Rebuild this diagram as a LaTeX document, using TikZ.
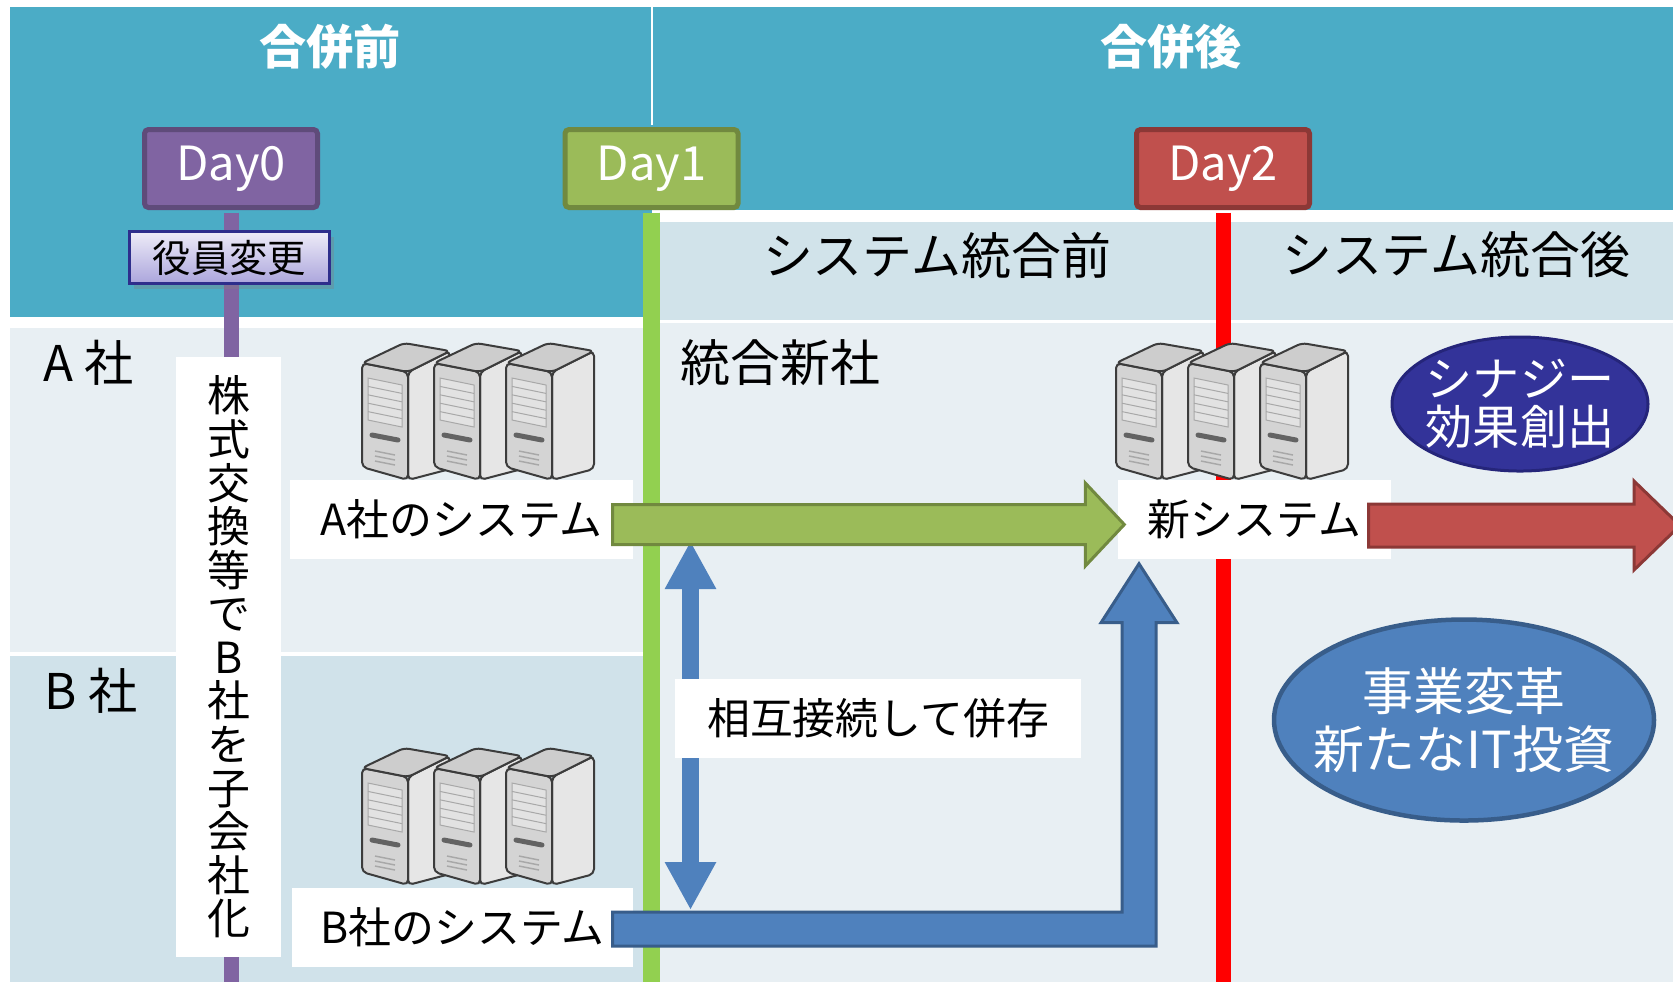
\documentclass[tikz,border=0pt]{standalone}
\usepackage{fontspec}
\setmainfont{Noto Sans CJK JP}
\usetikzlibrary{shapes.geometric,arrows.meta,shadows,calc}

\definecolor{hdteal}{HTML}{4BACC6}
\definecolor{bandblue}{HTML}{D1E3EA}
\definecolor{rowa}{HTML}{E8EFF3}
\definecolor{rowb}{HTML}{D0E2EA}
\definecolor{d0fill}{HTML}{8064A2}
\definecolor{d0line}{HTML}{5F4B7A}
\definecolor{d1fill}{HTML}{9BBB59}
\definecolor{d1line}{HTML}{71893F}
\definecolor{d1bar}{HTML}{92D050}
\definecolor{d2fill}{HTML}{C0504D}
\definecolor{d2line}{HTML}{8C3836}
\definecolor{accblue}{HTML}{4F81BD}
\definecolor{accline}{HTML}{385D8A}
\definecolor{synfill}{HTML}{333399}
\definecolor{synline}{HTML}{25257A}
\definecolor{yakuline}{HTML}{2E2E8C}
\definecolor{yakutop}{HTML}{EEECF8}
\definecolor{yakubot}{HTML}{ABA5DC}
\definecolor{towerline}{HTML}{3C3C3C}
\definecolor{towerfront}{HTML}{D4D4D4}
\definecolor{towerside}{HTML}{E6E6E6}
\definecolor{towertop}{HTML}{CDCDCD}
\definecolor{towerslot}{HTML}{E2E2E2}
\definecolor{towerbay}{HTML}{A8A8A8}

% one server tower, origin at the top left corner of its front
\tikzset{
  servertower/.pic={
    \filldraw[draw=towerline, fill=towerside, line width=0.2mm, rounded corners=0.5mm]
      (46,9) -- (88,-12) -- (88,106) -- (46,117) -- cycle;
    \filldraw[draw=towerline, fill=towerfront, line width=0.2mm, rounded corners=0.5mm]
      (0,0) -- (46,9) -- (46,117) -- (0,104) -- cycle;
    \filldraw[draw=towerline, fill=towertop, line width=0.2mm, rounded corners=0.5mm]
      (0,0) -- (42,-20) -- (88,-12) -- (46,9) -- cycle;
    % drive bays
    \filldraw[draw=towerbay, fill=towerslot, line width=0.1mm]
      (6,15) -- (40,22) -- (40,64) -- (6,57) -- cycle;
    \foreach \k in {1,...,4}
      \draw[towerbay, line width=0.1mm] (6,15+8.4*\k) -- (40,22+8.4*\k);
    % button and vents
    \draw[towerline!80, line width=0.5mm, line cap=round] (10,72) -- (36,77);
    \foreach \k in {0,1,2}
      \draw[towerbay, line width=0.15mm] (13,88+5*\k) -- (33,92+5*\k);
  }
}

\begin{document}
\begin{tikzpicture}[x=0.1mm, y=-0.1mm,
daybox/.style={rectangle, rounded corners=0.4mm, line width=0.5mm, minimum width=17.3mm, minimum height=7.8mm, inner sep=0pt, text=white, font=\fontsize{13.4pt}{15pt}\selectfont},
whitebox/.style={rectangle, fill=white, inner sep=0pt},
sysfont/.style={font=\fontsize{12.2pt}{14pt}\selectfont},
bigfont/.style={font=\fontsize{14.2pt}{16pt}\selectfont},
rowfont/.style={font=\fontsize{14pt}{16pt}\selectfont},
titletext/.style={text=white, font=\fontsize{13.4pt}{15pt}\selectfont\bfseries},
dayline/.style={line width=1.5mm},
blockarrow/.style={line width=0.3mm, line join=miter},
oval/.style={ellipse, inner sep=0pt},
]
\useasboundingbox (0,0) rectangle (1673,982);

% panels
\fill[white] (0,0) rectangle (1673,982);
\fill[hdteal] (10,7) rectangle (1673,210);
\fill[hdteal] (10,210) rectangle (652,317);
\fill[bandblue] (660,222) rectangle (1673,320);
\fill[rowa] (10,328) rectangle (652,652);
\fill[rowb] (10,656) rectangle (652,982);
\fill[rowa] (652,323) rectangle (1673,982);

\coordinate (top) at (0,7);
\coordinate (bottom) at (0,982);

% milestones
\node[daybox, draw=d0line, fill=d0fill] (day0) at (231,168.5) {Day0};
\node[daybox, draw=d1line, fill=d1fill] (day1) at (651.5,168.5) {Day1};
\node[daybox, draw=d2line, fill=d2fill] (day2) at (1223,168.5) {Day2};
\draw[white, line width=0.2mm] ([yshift=0.25mm]day1.north) -- (day1.north |- top);
\draw[dayline, draw=d0fill] ([yshift=-0.25mm]day0.south) -- (day0.south |- bottom);
\draw[dayline, draw=d1bar, line width=1.7mm] ([yshift=-0.25mm]day1.south) -- (day1.south |- bottom);
\draw[dayline, draw=red] ([yshift=-0.25mm]day2.south) -- (day2.south |- bottom);

\node[titletext] (pre) at (330,47) {合併前};
\node[titletext] (post) at (1171,47) {合併後};
\node[bigfont] (sysbefore) at (937,255) {システム統合前};
\node[bigfont] (sysafter) at (1456,255) {システム統合後};

\node[rectangle, draw=yakuline, line width=0.25mm, top color=yakutop, bottom color=yakubot,
  minimum width=20mm, minimum height=5.2mm, inner sep=0pt,
  drop shadow={shadow xshift=0.4mm, shadow yshift=-0.5mm, opacity=0.35},
  font=\fontsize{10.9pt}{12pt}\selectfont] (yakuin) at (229.5,257.5) {役員変更};
\node[whitebox, minimum width=10.5mm, minimum height=60mm, align=center,
  font=\fontsize{12.2pt}{12.4pt}\selectfont] (kabu) at (228.5,657)
  {株\\式\\交\\換\\等\\で\\B\\社\\を\\子\\会\\社\\化};

% companies
\node[rowfont] (rowA) at (89,363) {A 社};
\node[rowfont] (rowB) at (91,691) {B 社};
\node[bigfont, anchor=west, inner sep=0pt] (newco) at (680,363) {統合新社};

% servers
\foreach \sx in {0,72,144} {
  \pic at (362+\sx,363) {servertower};
  \pic at (1116+\sx,363) {servertower};
  \pic at (362+\sx,768) {servertower};
}

\node[whitebox, sysfont, minimum width=34.3mm, minimum height=7.9mm] (asys) at (461.5,519.5) {A社のシステム};
\node[whitebox, sysfont, minimum width=27.3mm, minimum height=7.9mm] (newsys) at (1254.5,519.5) {新システム};
\node[whitebox, sysfont, minimum width=34.1mm, minimum height=7.9mm] (bsys) at (462.5,927.5) {B社のシステム};

% both systems kept side by side
\coordinate (linktop) at (690.5,541);
\coordinate (linkbot) at (690.5,910);
\draw[line width=1.7mm, draw=accblue, {Triangle[length=4.8mm,width=4.8mm]}-{Triangle[length=4.8mm,width=4.8mm]}] (linktop) -- (linkbot);
\node[whitebox, sysfont, minimum width=40.6mm, minimum height=7.9mm] (link) at (878,718.5) {相互接続して併存};

% A system into the new one
\draw[blockarrow, draw=d1line, fill=d1fill]
  let \p1=([xshift=-2.1mm,yshift=-0.5mm]asys.east), \p2=([xshift=0.7mm,yshift=-0.5mm]newsys.west) in
  (\x1,\y1+2mm) -- (\x2-3.9mm,\y1+2mm) -- (\x2-3.9mm,\y1+4.15mm) -- (\x2,\y1)
  -- (\x2-3.9mm,\y1-4.15mm) -- (\x2-3.9mm,\y1-2mm) -- (\x1,\y1-2mm) -- cycle;

% B system into the new one
\draw[blockarrow, draw=accline, fill=accblue]
  let \p1=([xshift=-2.1mm,yshift=-0.15mm]bsys.east), \p2=([xshift=-11.55mm,yshift=-0.4mm]newsys.south) in
  (\x1,\y1+1.7mm) -- (\x2-1.7mm,\y1+1.7mm) -- (\x2-1.7mm,\y2-5.9mm) -- (\x2-3.8mm,\y2-5.9mm)
  -- (\p2) -- (\x2+3.8mm,\y2-5.9mm) -- (\x2+1.7mm,\y2-5.9mm) -- (\x2+1.7mm,\y1-1.7mm)
  -- (\x1,\y1-1.7mm) -- cycle;

% new system onwards
\coordinate (onward) at (1680,525.5);
\draw[blockarrow, draw=d2line, fill=d2fill]
  let \p1=([xshift=-2.3mm,yshift=-0.6mm]newsys.east), \p2=(onward) in
  (\x1,\y1+2.15mm) -- (\x2-4.6mm,\y1+2.15mm) -- (\x2-4.6mm,\y1+4.45mm) -- (\x2,\y1)
  -- (\x2-4.6mm,\y1-4.45mm) -- (\x2-4.6mm,\y1-2.15mm) -- (\x1,\y1-2.15mm) -- cycle;

% outcomes
\node[oval, draw=synline, line width=0.3mm, fill=synfill, minimum width=25.6mm, minimum height=13.4mm,
  label={[text=white, align=center, font=\fontsize{13.4pt}{13.7pt}\selectfont]center:{シナジー\\効果創出}}] (synergy) at (1520,404) {};
\node[oval, draw=accline, line width=0.45mm, fill=accblue, minimum width=38mm, minimum height=20.1mm,
  label={[text=white, align=center, font=\fontsize{14.5pt}{16.5pt}\selectfont]center:{事業変革\\新たなIT投資}}] (invest) at (1464,720) {};
\end{tikzpicture}
\end{document}
